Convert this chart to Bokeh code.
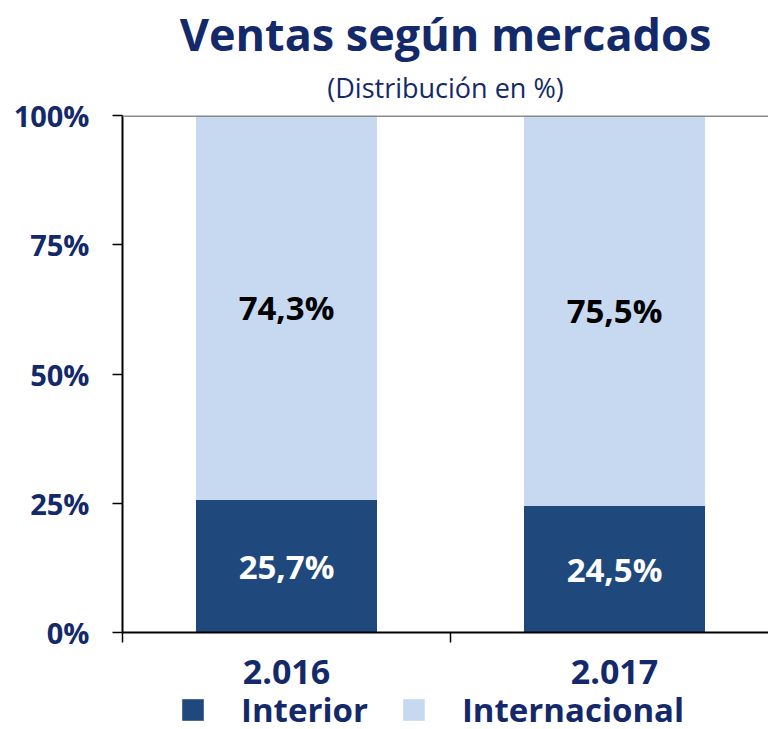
from bokeh.plotting import figure
from bokeh.layouts import column
from bokeh.models import (Range1d, FixedTicker, Title, Legend, LegendItem, Span,
                          ColumnDataSource)
from bokeh.core.properties import value
from bokeh.embed import file_html
from bokeh.resources import INLINE

# ---- data ----
years = ["2.016", "2.017"]
interior = [25.7, 24.5]
internacional = [74.3, 75.5]
interior_labels = ["25,7%", "24,5%"]
internacional_labels = ["74,3%", "75,5%"]
y_ticks = [0, 25, 50, 75, 100]
y_tick_labels = ["0%", "25%", "50%", "75%", "100%"]
series_names = ["Interior", "Internacional"]
title_text = "Ventas según mercados"
subtitle_text = "(Distribución en %)"

DARK = "#1F497D"
LIGHT = "#C6D9F1"
NAVY = "#13296A"
FONT = "Open Sans"

W, H = 768, 729
MAIN_H = 697
LEFT, TOP = 122, 115
BOTTOM = MAIN_H - 632
frame_w = W - LEFT
cat_px = 328.0

xpos = [i + 0.5 for i in range(len(years))]
src = ColumnDataSource(dict(
    x=xpos, interior=interior, internacional=internacional,
    y_int=[a / 2 for a in interior],
    y_ext=[a + b / 2 for a, b in zip(interior, internacional)],
    l_int=interior_labels, l_ext=internacional_labels,
))

p = figure(width=W, height=MAIN_H, output_backend="svg", toolbar_location=None,
           x_range=Range1d(0, frame_w / cat_px), y_range=Range1d(0, 100),
           min_border_left=LEFT, min_border_right=0, min_border_top=TOP,
           min_border_bottom=BOTTOM)
p.outline_line_color = None
p.xgrid.visible = False
p.ygrid.visible = False
p.background_fill_color = "white"

r = p.vbar_stack(["interior", "internacional"], x="x", width=181 / cat_px,
                 color=[DARK, LIGHT], source=src, line_color=None)

p.text(x="x", y="y_int", text="l_int", source=src, text_color="white",
       text_font=value(FONT), text_font_style="bold", text_font_size="33px",
       text_align="center", text_baseline="middle")
p.text(x="x", y="y_ext", text="l_ext", source=src, text_color="black",
       text_font=value(FONT), text_font_style="bold", text_font_size="33px",
       text_align="center", text_baseline="middle")

p.add_layout(Span(location=100, dimension="width", line_color="#8C8C8C",
                  line_width=3))

# y axis
ya = p.yaxis[0]
ya.ticker = FixedTicker(ticks=y_ticks)
ya.major_label_overrides = {t: l for t, l in zip(y_ticks, y_tick_labels)}
ya.axis_line_color = "black"
ya.axis_line_width = 2
ya.major_tick_line_color = "black"
ya.major_tick_line_width = 1.5
ya.major_tick_out = 10
ya.major_tick_in = 0
ya.minor_tick_line_color = None
ya.major_label_text_font = FONT
ya.major_label_text_font_style = "bold"
ya.major_label_text_font_size = "29px"
ya.major_label_text_color = NAVY
ya.major_label_standoff = 23

# x axis
xa = p.xaxis[0]
xa.ticker = FixedTicker(ticks=xpos, minor_ticks=[float(i) for i in range(len(years) + 1)])
xa.major_label_overrides = {x: y for x, y in zip(xpos, years)}
xa.axis_line_color = "black"
xa.axis_line_width = 2
xa.major_tick_out = 0
xa.major_tick_in = 0
xa.minor_tick_out = 10
xa.minor_tick_in = 0
xa.minor_tick_line_color = "black"
xa.minor_tick_line_width = 1.5
xa.major_label_text_font = FONT
xa.major_label_text_font_style = "bold"
xa.major_label_text_font_size = "34px"
xa.major_label_text_color = NAVY
xa.major_label_standoff = 17

# titles (first added sits nearest the plot)
p.add_layout(Title(text=subtitle_text, align="center", text_font=FONT,
                   text_font_size="27px", text_font_style="normal",
                   text_color=NAVY, standoff=19), "above")
p.add_layout(Title(text=title_text, align="center", text_font=FONT,
                   text_font_size="45px", text_font_style="bold",
                   text_color=NAVY, standoff=-13), "above")

# legend strip below (its frame is aligned with the main frame by the column)
lg = figure(width=W, height=H - MAIN_H, output_backend="svg", toolbar_location=None,
            x_range=Range1d(0, 1), y_range=Range1d(1000, 1001),
            min_border_left=LEFT, min_border_right=0, min_border_top=0,
            min_border_bottom=0, x_axis_type=None, y_axis_type=None)
lg.outline_line_color = None
lg.xgrid.visible = False
lg.ygrid.visible = False
swatches = [lg.vbar(x=xpos, top=vals, width=0.1, color=c, line_color=None)
            for vals, c in zip([interior, internacional], [DARK, LIGHT])]
legend = Legend(items=[LegendItem(label=n, renderers=[rr]) for n, rr in zip(series_names, swatches)],
                location=(57, -3), orientation="horizontal",
                glyph_width=27, glyph_height=27, label_standoff=35, spacing=32,
                padding=0, margin=0, border_line_color=None,
                background_fill_alpha=0,
                label_text_font=FONT, label_text_font_style="bold",
                label_text_font_size="33px", label_text_color=NAVY)
lg.add_layout(legend)

open("out.html", "w").write(file_html(column(p, lg, spacing=0), INLINE))
